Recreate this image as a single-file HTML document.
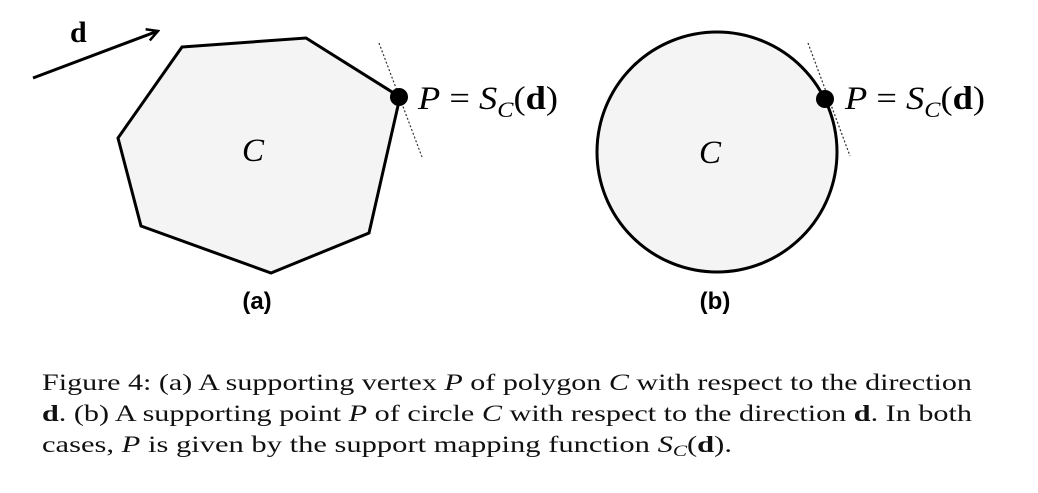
<!DOCTYPE html>
<html><head><meta charset="utf-8"><style>
html,body{margin:0;padding:0;background:#fff;width:1038px;height:493px;overflow:hidden}
svg{display:block}
.serif{font-family:"Liberation Serif",serif}
</style></head><body>
<svg width="1038" height="493" viewBox="0 0 1038 493">
<defs><marker id="ah" markerWidth="14" markerHeight="14" refX="12" refY="7" orient="auto" markerUnits="userSpaceOnUse"><path d="M1,1 L12,7 L1,13" fill="none" stroke="#000" stroke-width="2.5"/></marker></defs>
<g>
<line x1="33" y1="78" x2="158" y2="31" stroke="#000" stroke-width="3" marker-end="url(#ah)"/>
<text x="70" y="42" class="serif" font-size="30" font-weight="bold">d</text>
<polygon points="182,47 306,38 400,97 369,233 271,273 141,226 118,138" fill="#f4f4f4" stroke="#000" stroke-width="3" stroke-linejoin="miter"/>
<line x1="379" y1="43" x2="422" y2="157" stroke="#333" stroke-width="1.2" stroke-dasharray="2,2"/>
<circle cx="399" cy="97" r="9" fill="#000"/>
<text x="418" y="109" class="serif" font-size="33" textLength="140" lengthAdjust="spacingAndGlyphs"><tspan font-style="italic">P</tspan> = <tspan font-style="italic">S</tspan><tspan font-style="italic" font-size="22" dy="8">C</tspan><tspan dy="-8">(</tspan><tspan font-weight="bold">d</tspan>)</text>
<text x="253" y="161" class="serif" font-size="33" font-style="italic" text-anchor="middle">C</text>
<text x="257" y="309" font-family="Liberation Sans, sans-serif" font-size="24" font-weight="bold" text-anchor="middle">(a)</text>
</g>
<g>
<circle cx="717" cy="152" r="120" fill="#f4f4f4" stroke="#000" stroke-width="3"/>
<line x1="808" y1="43" x2="850" y2="156" stroke="#333" stroke-width="1.2" stroke-dasharray="2,2"/>
<circle cx="825" cy="99" r="9" fill="#000"/>
<text x="845" y="109" class="serif" font-size="33" textLength="140" lengthAdjust="spacingAndGlyphs"><tspan font-style="italic">P</tspan> = <tspan font-style="italic">S</tspan><tspan font-style="italic" font-size="22" dy="8">C</tspan><tspan dy="-8">(</tspan><tspan font-weight="bold">d</tspan>)</text>
<text x="710" y="163" class="serif" font-size="33" font-style="italic" text-anchor="middle">C</text>
<text x="715" y="309" font-family="Liberation Sans, sans-serif" font-size="24" font-weight="bold" text-anchor="middle">(b)</text>
</g>
<g class="serif" font-size="23" fill="#111">
<text x="42" y="390" textLength="930" lengthAdjust="spacingAndGlyphs">Figure 4: (a) A supporting vertex <tspan font-style="italic">P</tspan> of polygon <tspan font-style="italic">C</tspan> with respect to the direction</text>
<text x="42" y="421" textLength="930" lengthAdjust="spacingAndGlyphs"><tspan font-weight="bold">d</tspan>. (b) A supporting point <tspan font-style="italic">P</tspan> of circle <tspan font-style="italic">C</tspan> with respect to the direction <tspan font-weight="bold">d</tspan>. In both</text>
<text x="42" y="452" textLength="690" lengthAdjust="spacingAndGlyphs">cases, <tspan font-style="italic">P</tspan> is given by the support mapping function <tspan font-style="italic">S</tspan><tspan font-style="italic" font-size="16" dy="4">C</tspan><tspan dy="-4">(</tspan><tspan font-weight="bold">d</tspan>).</text>
</g>
</svg>
</body></html>
